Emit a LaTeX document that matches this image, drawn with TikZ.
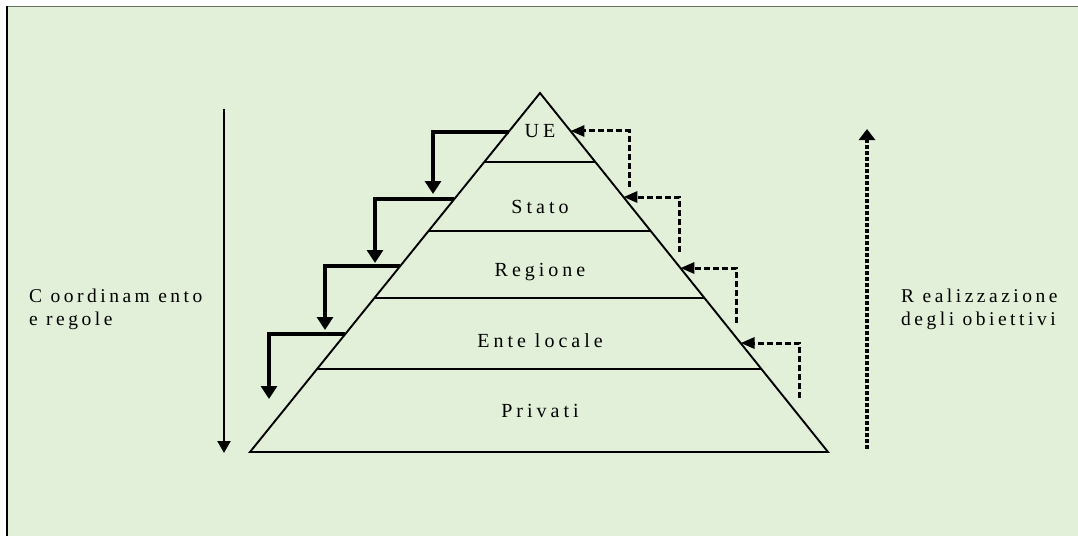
\documentclass[tikz,border=0pt]{standalone}
\usepackage{fontspec}
\setmainfont{Liberation Serif}
\newfontfamily\spaced[LetterSpace=20]{Liberation Serif}
\newfontfamily\spacedside[LetterSpace=18]{Liberation Serif}
\usetikzlibrary{arrows.meta,calc}
\definecolor{bg}{HTML}{E2EFD9}
\definecolor{topline}{HTML}{66705F}
\begin{document}
\begin{tikzpicture}[x=1pt,y=-1pt,
  lvl/.style={font=\spaced\fontsize{20}{23}\selectfont, text=black, inner sep=0pt, anchor=center},
  side/.style={font=\spacedside\fontsize{19.5}{23}\selectfont, text=black, inner sep=0pt, align=left, anchor=west},
  solidstep/.style={line width=3.1pt, -{Triangle[width=16pt,length=13pt]}},
  dashstep/.style={line width=3pt, dash pattern=on 6pt off 3pt, -{Triangle[width=11pt,length=14pt]}},
  sep/.style={line width=1.3pt}]
\useasboundingbox (0,0) rectangle (1078,536);
\fill[white] (0,0) rectangle (1078,536);
\fill[bg] (7,7) rectangle (1078,536);
\draw[topline, line width=1.8pt] (6,6.5) -- (1078,6.5);
\draw[black, line width=2pt] (6.8,6) -- (6.8,536);
% pyramid
\coordinate (A) at (540,93);
\coordinate (BL) at (250,452);
\coordinate (BR) at (828,452);
\draw[line width=1.9pt, line join=miter] (A) -- (BL) -- (BR) -- cycle;
% level separators
\foreach \i/\t in {1/0.1922,2/0.3844,3/0.5710,4/0.7688}{
  \coordinate (sl\i) at ($(A)!\t!(BL)$);
  \coordinate (sr\i) at ($(A)!\t!(BR)$);
  \draw[sep] (sl\i) -- (sr\i);
}
% labels
\node[lvl] (ue) at (540,131) {UE};
\node[lvl] (stato) at (540,207) {Stato};
\node[lvl] (regione) at (540,272) {Regione};
\node[lvl] (ente) at (540,341) {Ente locale};
\node[lvl] (privati) at (540,411) {Privati};
\node[side] (coord) at (29,309) {C oordinam ento\\e regole};
\node[side] (real) at (901,309) {R ealizzazione\\degli obiettivi};
% left step arrows
\foreach \i/\t/\dx/\dy in {1/0.1086/433/194,2/0.2953/375/263,3/0.4819/325/330,4/0.6713/269/399}{
  \coordinate (ls\i) at ($(A)!\t!(BL)$);
  \coordinate (ld\i) at (\dx,\dy);
  \draw[solidstep] (ls\i) -| (ld\i);
}
% right dashed step arrows
\foreach \i/\t/\ex/\ey in {1/0.1058/629/187,2/0.2897/679/252,3/0.4875/736/323,4/0.6964/799/398}{
  \coordinate (rt\i) at ($(A)!\t!(BR)$);
  \coordinate (re\i) at (\ex,\ey);
  \draw[dashstep] (re\i) |- (rt\i);
}
% long arrows
\coordinate (lt) at (224,109);
\coordinate (lb) at (224,453);
\draw[line width=2.2pt, -{Triangle[width=13pt,length=12pt]}] (lt) -- (lb);
\coordinate (rb) at (867,449);
\coordinate (rtop) at (867,129);
\draw[line width=3.3pt, dash pattern=on 4pt off 2pt, -{Triangle[width=16pt,length=11pt]}] (rb) -- (rtop);
\end{tikzpicture}
\end{document}
